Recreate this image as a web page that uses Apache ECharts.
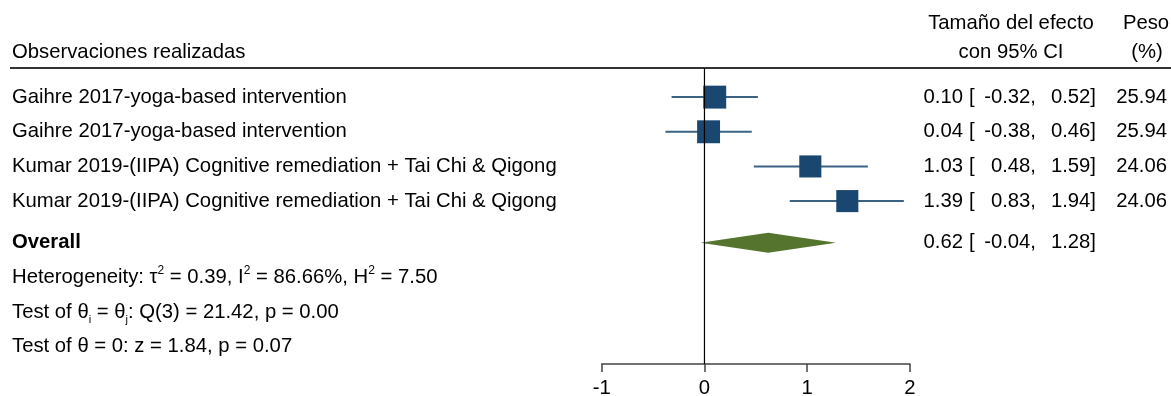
<!DOCTYPE html>
<html><head><meta charset="utf-8">
<script src="https://cdn.jsdelivr.net/npm/echarts@6/dist/echarts.min.js"></script>
<style>html,body{margin:0;padding:0;background:#fff}#c{width:1171px;height:396px}</style>
</head><body><div id="c"></div>
<script>
// ---- data ----
const studies = [
  "Gaihre 2017-yoga-based intervention",
  "Gaihre 2017-yoga-based intervention",
  "Kumar 2019-(IIPA) Cognitive remediation + Tai Chi & Qigong",
  "Kumar 2019-(IIPA) Cognitive remediation + Tai Chi & Qigong"
];
const rows = [1, 2, 3, 4];
const est = [0.10, 0.04, 1.03, 1.39];
const lo = [-0.32, -0.38, 0.48, 0.83];
const hi = [0.52, 0.46, 1.59, 1.94];
const weight = [25.94, 25.94, 24.06, 24.06];
const overallRow = 5.2;
const overallEst = 0.62;
const overallLo = -0.04;
const overallHi = 1.28;
const statRows = [6.2, 7.2, 8.2];
const statTexts = [
  "{n|Heterogeneity: τ}{sup|2}{n| = 0.39, I}{sup|2}{n| = 86.66%, H}{sup|2}{n| = 7.50}",
  "{n|Test of θ}{sub|i}{n| = θ}{sub|j}{n|: Q(3) = 21.42, p = 0.00}",
  "{n|Test of θ = 0: z = 1.84, p = 0.07}"
];
const xTicks = [-1, 0, 1, 2];

// ---- style / layout ----
const FONT = '"Liberation Sans", Arial, Helvetica, sans-serif';
const FS = 20.3;
const NAVY = '#1a476f';
const GREEN = '#55752f';
const X_LABEL = 12, X_EST = 963, X_BR = 969, X_LO = 1036, X_HI = 1096, X_W = 1167;
const fmt = v => v.toFixed(2);

function txt(x, y, text, align, extra) {
  return {
    type: 'text', x: x, y: y,
    style: Object.assign({ text: text, fill: '#000', fontSize: FS, fontFamily: FONT, align: align, verticalAlign: 'middle' }, extra || {})
  };
}

const chart = echarts.init(document.getElementById('c'));
chart.setOption({
  animation: false,
  grid: { left: 601.7, right: 261, top: 68, bottom: 32, containLabel: false, outerBoundsMode: 'none' },
  xAxis: {
    type: 'value', min: xTicks[0], max: xTicks[xTicks.length - 1], interval: 1,
    axisLine: { show: true, onZero: false, lineStyle: { color: '#444', width: 1.5 } },
    axisTick: { show: true, inside: false, length: 8, lineStyle: { color: '#444', width: 1.5 } },
    axisLabel: { fontSize: FS, color: '#000', fontFamily: FONT, margin: 14 },
    splitLine: { show: false }
  },
  yAxis: { type: 'value', inverse: true, min: 0.16, max: 8.70, show: false },
  graphic: [
    { type: 'line', shape: { x1: 10, y1: 68, x2: 1171, y2: 68 }, style: { stroke: '#333', lineWidth: 2 } },
    txt(12, 52, 'Observaciones realizadas', 'left'),
    txt(1011, 23, 'Tamaño del efecto', 'center'),
    txt(1011, 52, 'con 95% CI', 'center'),
    txt(1146, 23, 'Peso', 'center'),
    txt(1147, 52, '(%)', 'center')
  ],
  series: [
    {
      type: 'custom', coordinateSystem: 'cartesian2d', clip: false, z: 2,
      data: rows.map((r, i) => [est[i], r, lo[i], hi[i], weight[i]]),
      renderItem(params, api) {
        const r = api.value(1);
        const p0 = api.coord([api.value(2), r]);
        const p1 = api.coord([api.value(3), r]);
        const pc = api.coord([api.value(0), r]);
        const s = 4.5 * Math.sqrt(api.value(4));
        return { type: 'group', children: [
          { type: 'line', shape: { x1: p0[0], y1: p0[1], x2: p1[0], y2: p1[1] }, style: { stroke: NAVY, lineWidth: 2, opacity: 0.85 } },
          { type: 'rect', shape: { x: pc[0] - s / 2, y: pc[1] - s / 2, width: s, height: s }, style: { fill: NAVY } }
        ] };
      }
    },
    {
      type: 'custom', coordinateSystem: 'cartesian2d', clip: false, z: 2,
      data: [[overallEst, overallRow, overallLo, overallHi]],
      renderItem(params, api) {
        const r = api.value(1);
        const pl = api.coord([api.value(2), r]);
        const pr = api.coord([api.value(3), r]);
        const pc = api.coord([api.value(0), r]);
        const h = 10;
        return { type: 'polygon', shape: { points: [[pl[0], pl[1]], [pc[0], pc[1] - h], [pr[0], pr[1]], [pc[0], pc[1] + h]] }, style: { fill: GREEN } };
      }
    },
    {
      type: 'custom', coordinateSystem: 'cartesian2d', clip: false, z: 5,
      data: [[0]],
      renderItem(params, api) {
        const cs = params.coordSys;
        const x = api.coord([api.value(0), 1])[0];
        return { type: 'line', shape: { x1: x, y1: cs.y, x2: x, y2: cs.y + cs.height }, style: { stroke: '#000', lineWidth: 1.2 } };
      }
    },
    {
      type: 'custom', coordinateSystem: 'cartesian2d', clip: false, z: 3,
      data: rows.map((r, i) => [0, r, i]),
      renderItem(params, api) {
        const i = api.value(2);
        const y = api.coord([0, api.value(1)])[1];
        return { type: 'group', children: [
          txt(X_LABEL, y, studies[i], 'left'),
          txt(X_EST, y, fmt(est[i]), 'right'),
          txt(X_BR, y, '[', 'left'),
          txt(X_LO, y, fmt(lo[i]) + ',', 'right'),
          txt(X_HI, y, fmt(hi[i]) + ']', 'right'),
          txt(X_W, y, fmt(weight[i]), 'right')
        ] };
      }
    },
    {
      type: 'custom', coordinateSystem: 'cartesian2d', clip: false, z: 3,
      data: [[0, overallRow]],
      renderItem(params, api) {
        const y = api.coord([0, api.value(1)])[1];
        return { type: 'group', children: [
          txt(X_LABEL, y, 'Overall', 'left', { fontWeight: 'bold' }),
          txt(X_EST, y, fmt(overallEst), 'right'),
          txt(X_BR, y, '[', 'left'),
          txt(X_LO, y, fmt(overallLo) + ',', 'right'),
          txt(X_HI, y, fmt(overallHi) + ']', 'right')
        ] };
      }
    },
    {
      type: 'custom', coordinateSystem: 'cartesian2d', clip: false, z: 3,
      data: statRows.map((r, i) => [0, r, i]),
      renderItem(params, api) {
        const i = api.value(2);
        const y = api.coord([0, api.value(1)])[1];
        return txt(X_LABEL, y, statTexts[i], 'left', {
          rich: {
            n: { fontSize: FS, fontFamily: FONT, fill: '#000', lineHeight: 26 },
            sup: { fontSize: 12, fontFamily: FONT, fill: '#000', lineHeight: 12, verticalAlign: 'top' },
            sub: { fontSize: 11, fontFamily: FONT, fill: '#000', lineHeight: 11, verticalAlign: 'bottom' }
          }
        });
      }
    }
  ]
});
</script>
</body></html>
